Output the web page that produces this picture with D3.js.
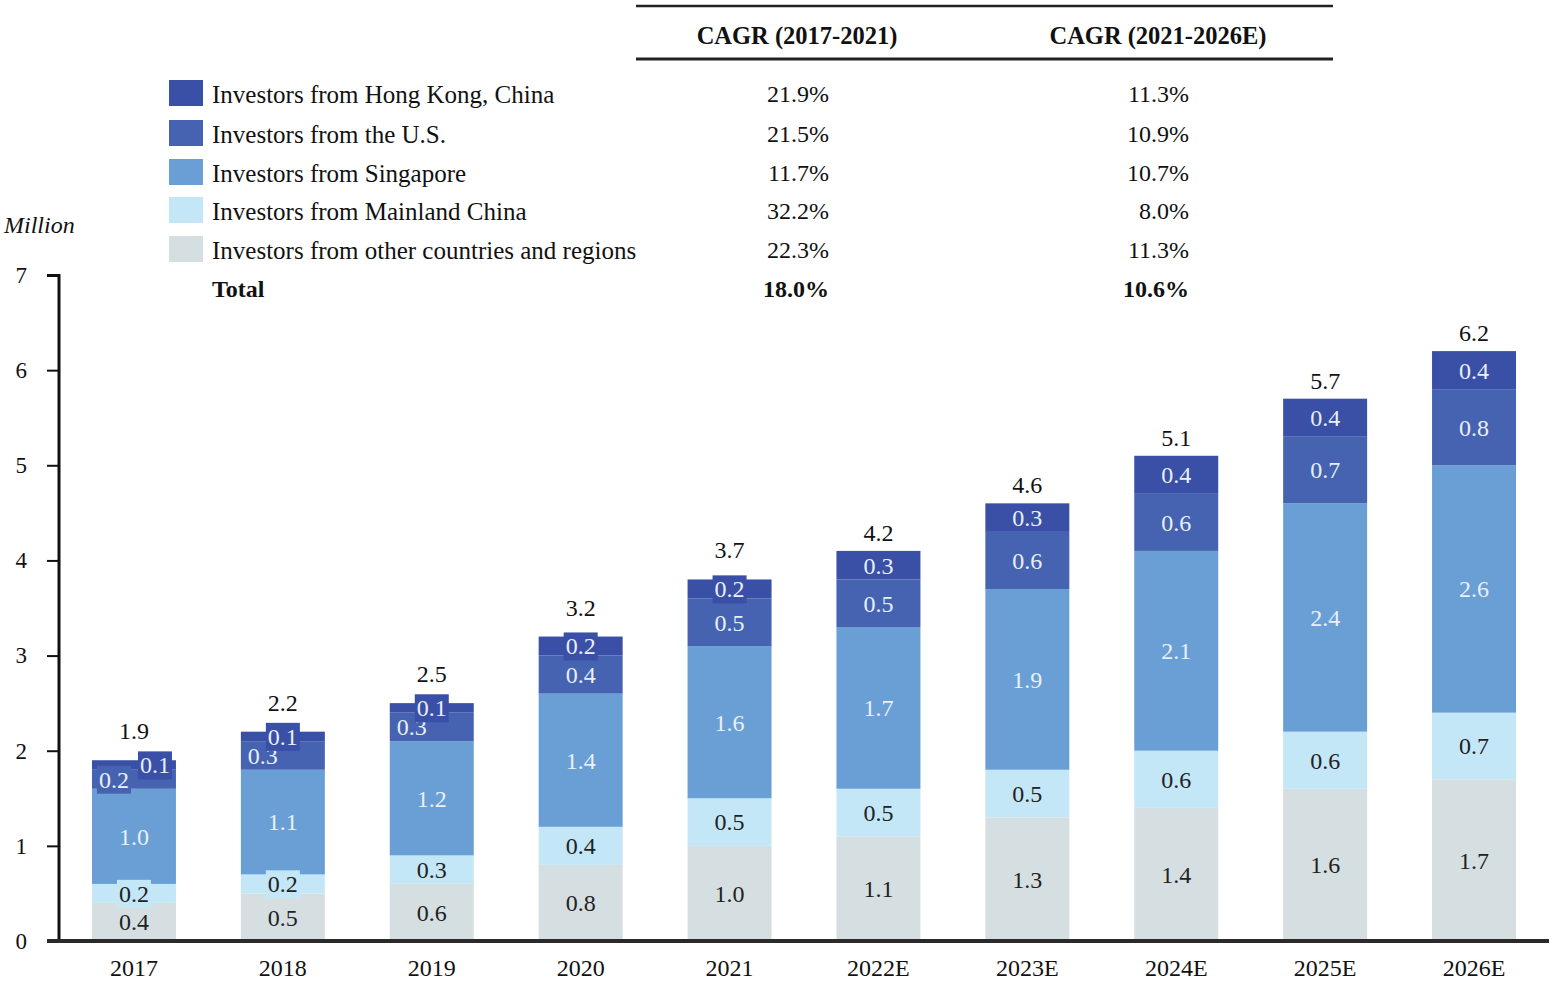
<!DOCTYPE html>
<html><head><meta charset="utf-8">
<script src="https://cdn.jsdelivr.net/npm/d3@7"></script>
<style>body{margin:0;background:#fff}svg{display:block}</style>
</head><body>
<svg id="c" width="1553" height="986"></svg>
<script>
const years = ["2017","2018","2019","2020","2021","2022E","2023E","2024E","2025E","2026E"];
const other    = [0.4,0.5,0.6,0.8,1.0,1.1,1.3,1.4,1.6,1.7];
const mainland = [0.2,0.2,0.3,0.4,0.5,0.5,0.5,0.6,0.6,0.7];
const singapore= [1.0,1.1,1.2,1.4,1.6,1.7,1.9,2.1,2.4,2.6];
const us       = [0.2,0.3,0.3,0.4,0.5,0.5,0.6,0.6,0.7,0.8];
const hk       = [0.1,0.1,0.1,0.2,0.2,0.3,0.3,0.4,0.4,0.4];
const totals   = ["1.9","2.2","2.5","3.2","3.7","4.2","4.6","5.1","5.7","6.2"];
const seriesNames = ["Investors from Hong Kong, China","Investors from the U.S.","Investors from Singapore","Investors from Mainland China","Investors from other countries and regions"];
const cagr1 = ["21.9%","21.5%","11.7%","32.2%","22.3%","18.0%"];
const cagr2 = ["11.3%","10.9%","10.7%","8.0%","11.3%","10.6%"];
const yTicks = [0,1,2,3,4,5,6,7];

const colors = {other:"#d5dfe2", mainland:"#c4e7f8", singapore:"#6a9fd5", us:"#4563b0", hk:"#3a4fa6"};
const textCol = {other:"#222", mainland:"#222", singapore:"#e8f0fa", us:"#e8f0fa", hk:"#e8f0fa"};
const keys = ["other","mainland","singapore","us","hk"];
const vals = {other, mainland, singapore, us, hk};
const rows = years.map((y,i)=>{const o={year:y}; keys.forEach(k=>o[k]=vals[k][i]); return o;});

const svg = d3.select("#c");
const font = "'Liberation Serif','Times New Roman',serif";
const x = d3.scaleBand().domain(years).range([62.2,1545.8]).paddingInner(0.436).paddingOuter(0.2);
const y = d3.scaleLinear().domain([0,7]).range([941,275]);

const stack = d3.stack().keys(keys)(rows);

// bars
const g = svg.append("g");
stack.forEach(layer=>{
  g.selectAll(null).data(layer).enter().append("rect")
    .attr("x",d=>x(d.data.year)).attr("width",x.bandwidth())
    .attr("y",d=>y(d[1])).attr("height",d=>y(d[0])-y(d[1]))
    .attr("fill",colors[layer.key]);
});

// segment labels
const labG = svg.append("g").attr("font-family",font).attr("font-size",24).attr("text-anchor","middle");
years.forEach((yr,i)=>{
  const cx = x(yr)+x.bandwidth()/2;
  const pos = {};
  stack.forEach(layer=>{ const d=layer[i]; pos[layer.key]={c:(y(d[0])+y(d[1]))/2, h:y(d[0])-y(d[1])}; });
  const diff = pos.us.c - pos.hk.c;
  const overlap = diff < 25;
  keys.forEach(k=>{
    let dx = 0;
    if (overlap && k==="us") dx = -20;
    if (overlap && k==="hk" && diff < 16) dx = 21;
    const small = pos[k].h < 22;
    const ty = pos[k].c;
    const order = (overlap && k==="us") ? 0 : 1;
    const grp = labG.append("g").attr("data-o",order);
    const t = grp.append("text").attr("x",cx+dx).attr("y",ty).attr("dy","0.35em")
      .attr("fill",textCol[k]).text(d3.format(".1f")(vals[k][i]));
    if (small) {
      const bb = t.node().getBBox();
      grp.insert("rect","text").attr("x",bb.x-2).attr("y",bb.y-1)
        .attr("width",bb.width+4).attr("height",bb.height+2).attr("fill",colors[k]);
    }
  });
});
labG.selectAll("g[data-o='0']").lower();

// totals
svg.append("g").attr("font-family",font).attr("font-size",24).attr("text-anchor","middle")
  .selectAll("text").data(years).enter().append("text")
  .attr("x",d=>x(d)+x.bandwidth()/2)
  .attr("y",(d,i)=>{ const top = y(stack[4][i][1]); return (hk[i] <= 0.2 ? top-21 : top-10); })
  .attr("fill","#111").text((d,i)=>totals[i]);

// axes
const yAxis = svg.append("g").attr("transform","translate(59,0)")
  .call(d3.axisLeft(y).tickValues(yTicks).tickFormat(d3.format("d")).tickSize(12).tickPadding(20));
yAxis.select(".domain").attr("stroke","#111").attr("stroke-width",3).attr("d","M-12,275.5H0V941");
yAxis.selectAll(".tick line").attr("stroke","#111").attr("stroke-width",2);
yAxis.selectAll(".tick text").attr("font-family",font).attr("font-size",23).attr("fill","#111");

const xAxis = svg.append("g").attr("transform","translate(0,941)")
  .call(d3.axisBottom(x).tickSize(0).tickPadding(18));
xAxis.select(".domain").attr("stroke","#2a2a2a").attr("stroke-width",4).attr("d","M47,0H1549");
xAxis.selectAll(".tick text").attr("font-family",font).attr("font-size",24).attr("fill","#111");

svg.append("text").attr("x",4).attr("y",233).attr("font-family",font).attr("font-size",24)
  .attr("font-style","italic").attr("fill","#111").text("Million");

// legend + CAGR table
const rowY = [94,134,173,211,250,289];
const leg = svg.append("g").attr("font-family",font).attr("font-size",25).attr("fill","#111");
const legKeys = ["hk","us","singapore","mainland","other"];
legKeys.forEach((k,i)=>{
  leg.append("rect").attr("x",169).attr("y",rowY[i]-14).attr("width",34).attr("height",26).attr("fill",colors[k]);
  leg.append("text").attr("x",212).attr("y",rowY[i]).attr("dy","0.35em").text(seriesNames[i]);
});
leg.append("text").attr("x",212).attr("y",rowY[5]).attr("dy","0.35em").attr("font-weight","bold").attr("font-size",24).text("Total");
svg.append("line").attr("x1",636).attr("x2",1333).attr("y1",6).attr("y2",6).attr("stroke","#222").attr("stroke-width",2.5);
svg.append("line").attr("x1",636).attr("x2",1333).attr("y1",59).attr("y2",59).attr("stroke","#222").attr("stroke-width",3);
const hdr = svg.append("g").attr("font-family",font).attr("font-size",24.5).attr("font-weight","bold").attr("text-anchor","middle").attr("fill","#111");
hdr.append("text").attr("x",797).attr("y",35).attr("dy","0.35em").text("CAGR (2017-2021)");
hdr.append("text").attr("x",1158).attr("y",35).attr("dy","0.35em").text("CAGR (2021-2026E)");
const tb = svg.append("g").attr("font-family",font).attr("font-size",24).attr("text-anchor","end").attr("fill","#111");
cagr1.forEach((v,i)=>tb.append("text").attr("x",829).attr("y",rowY[i]).attr("dy","0.35em").attr("font-weight",i===5?"bold":null).text(v));
cagr2.forEach((v,i)=>tb.append("text").attr("x",1189).attr("y",rowY[i]).attr("dy","0.35em").attr("font-weight",i===5?"bold":null).text(v));
</script>
</body></html>
